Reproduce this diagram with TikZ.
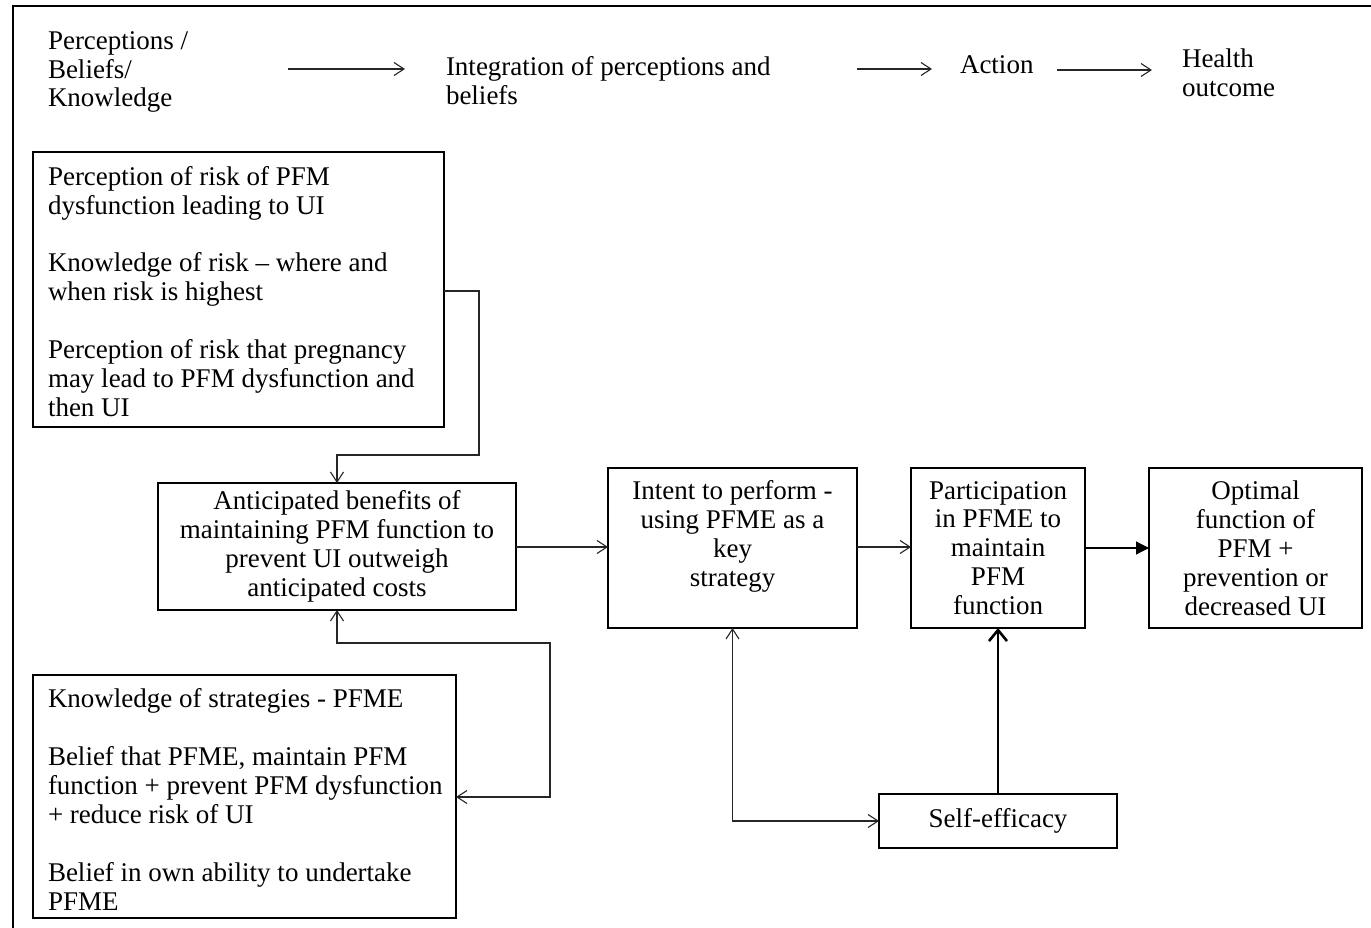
\documentclass[tikz,border=0pt]{standalone}
\usepackage{fontspec}
\setmainfont{Liberation Serif}
\usetikzlibrary{arrows.meta,calc}
\begin{document}
\begin{tikzpicture}[x=1pt,y=-1pt,
  every node/.style={font=\fontsize{27}{28.9}\selectfont, inner sep=0pt, outer sep=0pt},
  box/.style={draw=black, line width=1.8pt, align=center},
  plain/.style={align=left},
  conn/.style={draw=black!85, line width=1.1pt, -{Straight Barb[length=10pt,width=13pt,line width=1.1pt]}},
  bothconn/.style={draw=black!85, line width=1.1pt, {Straight Barb[length=10pt,width=13pt,line width=1.1pt]}-{Straight Barb[length=10pt,width=13pt,line width=1.1pt]}},
  filledconn/.style={draw=black, line width=1.1pt, -{Triangle[length=13pt,width=13pt]}},
  thickconn/.style={draw=black, line width=2.6pt, -{Straight Barb[length=11pt,width=18pt,line width=2.6pt]}}
]
\useasboundingbox (0,0) rectangle (1371,928);
\fill[white] (0,0) rectangle (1371,928);
% outer frame (top and left only visible)
\draw[line width=2pt] (13,928) -- (13,6) -- (1371,6);

% header row
\node[plain, anchor=west] (h1) at (48,72) {Perceptions /\\Beliefs/\\Knowledge};
\node[plain, anchor=west] (h2) at (446,81) {Integration of perceptions and\\beliefs};
\node[anchor=base west] (h3) at (960,74) {Action};
\node[plain, anchor=west] (h4) at (1182,73) {Health\\outcome};
\coordinate (a1s) at (288,69); \coordinate (a1e) at (405,69);
\coordinate (a2s) at (857,69); \coordinate (a2e) at (932,69);
\coordinate (a3s) at (1057,70); \coordinate (a3e) at (1152,70);
\draw[conn] (a1s) -- (a1e);
\draw[conn] (a2s) -- (a2e);
\draw[conn] (a3s) -- (a3e);

% box A
\node[box, minimum width=411, minimum height=275] (A) at (238.5,289.5) {};
\node[plain, anchor=west] (Atext) at ($(A.west)+(15,2)$) {Perception of risk of PFM\\dysfunction leading to UI\\[28.9pt]Knowledge of risk -- where and\\when risk is highest\\[28.9pt]Perception of risk that pregnancy\\may lead to PFM dysfunction and\\then UI};

% box B
\node[box, minimum width=358, minimum height=127] (B) at (337,546.5) {Anticipated benefits of\\maintaining PFM function to\\prevent UI outweigh\\anticipated costs};

% box C
\node[box, minimum width=249, minimum height=160] (C) at (732.5,548) {Intent to perform -\\using PFME as a\\key\\strategy\\\mbox{}};

% box D
\node[box, minimum width=174, minimum height=160] (D) at (998,548) {Participation\\in PFME to\\maintain\\PFM\\function};

% box E
\node[box, minimum width=213, minimum height=160] (E) at (1255.5,548) {Optimal\\function of\\PFM +\\prevention or\\decreased UI};

% box F
\node[box, minimum width=423, minimum height=243] (F) at (244.5,796.5) {};
\node[plain, anchor=west] (Ftext) at ($(F.west)+(15,3)$) {Knowledge of strategies - PFME\\[29.2pt]Belief that PFME, maintain PFM\\function + prevent PFM dysfunction\\+ reduce risk of UI\\[29.2pt]Belief in own ability to undertake\\PFME};

% box G
\node[box, minimum width=238, minimum height=54] (G) at (998,821) {Self-efficacy};

% connectors
\draw[conn] (A.east |- 0,291) -| (479,455) -| (B.north);
\draw[bothconn] (B.south) |- (550,643) |- (F.east |- 0,797);
\draw[conn] (B.east |- 0,547) -- (C.west |- 0,547);
\draw[conn] (C.east |- 0,547) -- (D.west |- 0,547);
\draw[filledconn] (D.east) -- (E.west);
\draw[bothconn] (C.south) |- (G.west);
\draw[thickconn] (G.north) -- (D.south);
\end{tikzpicture}
\end{document}
